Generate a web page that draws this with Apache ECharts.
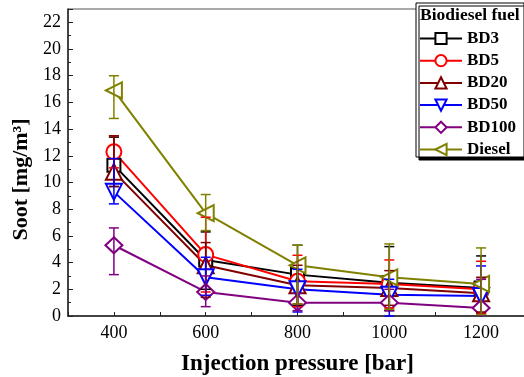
<!DOCTYPE html>
<html>
    <head>
        <meta charset="utf-8">
        <style>
            html, body { margin: 0; padding: 0; background: #fff; }
            #main { width: 524px; height: 377px; }
        </style>
    </head>
    <body>
        <div id="main"></div>
        <script src="https://cdn.jsdelivr.net/npm/echarts@6/dist/echarts.min.js"></script>
        <script>
            // injection pressure [bar]
            var pressure = [400, 600, 800, 1000, 1200];
            var fuels = ['BD3', 'BD5', 'BD20', 'BD50', 'BD100', 'Diesel'];

            // soot [mg/m3], with error bar ends
            var bd3 = [11.3, 4.2, 3.1, 2.5, 2.1];
            var bd3Hi = [13.4, 6.3, 5.3, 5.2, 4.5];
            var bd3Lo = [9.7, 2.0, 0.8, 0.4, 0.2];

            var bd5 = [12.3, 4.6, 2.6, 2.4, 2.0];
            var bd5Hi = [13.5, 7.4, 4.55, 4.2, 4.1];
            var bd5Lo = [11.1, 1.8, 0.7, 0.6, 0.2];

            var bd20 = [10.8, 3.8, 2.3, 2.1, 1.7];
            var bd20Hi = [13.5, 5.5, 3.8, 3.4, 2.9];
            var bd20Lo = [9.7, 1.4, 0.9, 0.8, 0.3];

            var bd50 = [9.3, 2.9, 2.0, 1.6, 1.5];
            var bd50Hi = [11.8, 4.4, 3.5, 2.75, 3.75];
            var bd50Lo = [8.4, 1.55, 0.3, 0.0, 0.1];

            var bd100 = [5.3, 1.8, 1.0, 1.0, 0.6];
            var bd100Hi = [6.6, 3.0, 1.7, 2.0, 2.75];
            var bd100Lo = [3.1, 0.7, 0.4, 0.4, 0.1];

            var diesel = [16.9, 7.7, 3.8, 2.9, 2.4];
            var dieselHi = [18.0, 9.1, 5.3, 5.4, 5.1];
            var dieselLo = [14.8, 6.4, 0.9, 0.5, 0.1];

            var serif = '"Liberation Serif", "DejaVu Serif", serif';

            var looks = [
                { color: '#000000', symbol: 'emptyRect', size: 13, rotate: 0 },
                { color: '#ff0000', symbol: 'emptyCircle', size: 15, rotate: 0 },
                { color: '#800000', symbol: 'emptyTriangle', size: 16, rotate: 0 },
                { color: '#0000ff', symbol: 'emptyTriangle', size: 16, rotate: 180 },
                { color: '#800080', symbol: 'emptyDiamond', size: [17, 16], rotate: 0 },
                { color: '#808000', symbol: 'emptyTriangle', size: 16, rotate: 90 }
            ];
            var values = [bd3, bd5, bd20, bd50, bd100, diesel];
            var highs = [bd3Hi, bd5Hi, bd20Hi, bd50Hi, bd100Hi, dieselHi];
            var lows = [bd3Lo, bd5Lo, bd20Lo, bd50Lo, bd100Lo, dieselLo];

            function errorBars(color) {
                return function (params, api) {
                    var x = api.value(0);
                    var top = api.coord([x, api.value(2)]);
                    var bot = api.coord([x, api.value(1)]);
                    var w = 5;
                    var st = { stroke: color, lineWidth: 1.5 };
                    return {
                        type: 'group',
                        children: [
                            { type: 'line', shape: { x1: top[0], y1: top[1], x2: bot[0], y2: bot[1] }, style: st },
                            { type: 'line', shape: { x1: top[0] - w, y1: top[1], x2: top[0] + w, y2: top[1] }, style: st },
                            { type: 'line', shape: { x1: bot[0] - w, y1: bot[1], x2: bot[0] + w, y2: bot[1] }, style: st }
                        ]
                    };
                };
            }

            var series = [];
            fuels.forEach(function (name, i) {
                var look = looks[i];
                series.push({
                    name: name,
                    type: 'line',
                    data: pressure.map(function (p, k) { return [p, values[i][k]]; }),
                    symbol: look.symbol,
                    symbolSize: look.size,
                    symbolRotate: look.rotate,
                    showAllSymbol: true,
                    lineStyle: { color: look.color, width: 2 },
                    itemStyle: { color: look.color, borderWidth: 1.3 },
                    z: 2
                });
            });
            fuels.forEach(function (name, i) {
                series.push({
                    name: name + ' error',
                    type: 'custom',
                    renderItem: errorBars(looks[i].color),
                    data: pressure.map(function (p, k) { return [p, lows[i][k], highs[i][k]]; }),
                    encode: { x: 0, y: [1, 2] },
                    silent: true,
                    z: 3
                });
            });

            var chart = echarts.init(document.getElementById('main'));
            chart.setOption({
                animation: false,
                backgroundColor: '#fff',
                title: {
                    text: 'Biodiesel fuel',
                    left: 420,
                    top: 6,
                    padding: 0,
                    z: 6,
                    textStyle: { fontFamily: serif, fontWeight: 'bold', fontSize: 17.5, color: '#000' }
                },
                graphic: [{
                    type: 'rect',
                    z: 4,
                    shape: { x: 416, y: 3, width: 108, height: 154 },
                    style: {
                        fill: '#fff', stroke: '#000', lineWidth: 1,
                        shadowColor: '#000', shadowOffsetX: 3, shadowOffsetY: 3, shadowBlur: 0
                    }
                }],
                legend: {
                    data: fuels,
                    orient: 'vertical',
                    left: 419,
                    top: 30,
                    padding: 0,
                    itemWidth: 42,
                    itemHeight: 14,
                    itemGap: 5.2,
                    z: 6,
                    textStyle: { fontFamily: serif, fontWeight: 'bold', fontSize: 17, color: '#000' }
                },
                grid: {
                    left: 68, right: -3, top: 9, bottom: 61,
                    outerBoundsMode: 'none',
                    containLabel: false,
                    show: true, borderColor: '#555', borderWidth: 1
                },
                xAxis: {
                    type: 'value',
                    min: 300, max: 1300, interval: 100,
                    name: 'Injection pressure [bar]',
                    nameLocation: 'middle',
                    nameGap: 37,
                    nameTextStyle: { fontFamily: serif, fontWeight: 'bold', fontSize: 23, color: '#000' },
                    axisLine: { lineStyle: { color: '#222', width: 1.5 } },
                    axisTick: { inside: true, length: 4, lineStyle: { color: '#222' } },
                    axisLabel: {
                        fontFamily: serif, fontSize: 18, color: '#000', margin: 8,
                        formatter: function (v) { return v % 200 === 0 ? v : ''; }
                    },
                    splitLine: { show: false }
                },
                yAxis: {
                    type: 'value',
                    min: 0, max: 23, interval: 2,
                    name: 'Soot [mg/m\u00b3]',
                    nameLocation: 'middle',
                    nameGap: 36,
                    nameTextStyle: {
                        fontFamily: serif, fontWeight: 'bold', fontSize: 22, color: '#000',
                        padding: [0, 34, 0, 0]
                    },
                    axisLine: { show: true, lineStyle: { color: '#222', width: 1.5 } },
                    axisTick: { inside: true, length: 5, lineStyle: { color: '#222' } },
                    minorTick: { show: true, splitNumber: 2, length: 3, lineStyle: { color: '#222' } },
                    axisLabel: {
                        fontFamily: serif, fontSize: 18, color: '#000', margin: 7,
                        formatter: function (v) { return v % 2 === 0 ? v : ''; }
                    },
                    splitLine: { show: false }
                },
                series: series
            });

            window.onresize = chart.resize;
        </script>
    </body>
</html>
